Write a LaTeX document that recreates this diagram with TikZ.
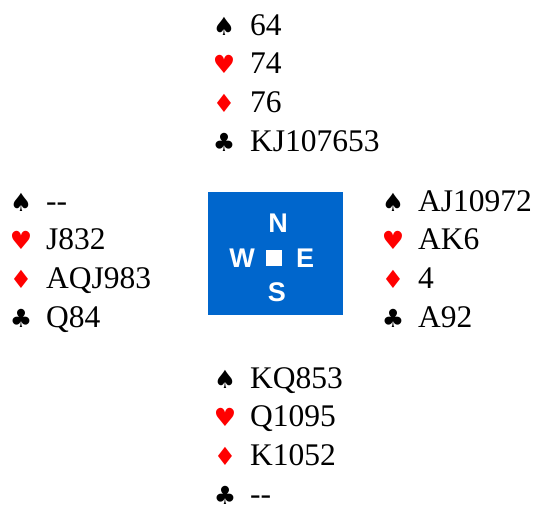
\documentclass[tikz,border=0pt]{standalone}
\usepackage{fontspec}
\setmainfont{Liberation Serif}
\newfontfamily\suitfont{DejaVu Sans}
\newfontfamily\seatfont{Liberation Sans}
\usetikzlibrary{positioning}
\definecolor{tableblue}{HTML}{0066CC}
\newcommand\spadesym{{\suitfont\char"2660}}
\newcommand\heartsym{{\suitfont\char"2665}}
\newcommand\diamsym{{\suitfont\char"2666}}
\newcommand\clubsym{{\suitfont\char"2663}}
\newcommand\void{{-}{-}}

\begin{document}
\begin{tikzpicture}[
    x=1pt, y=-1pt,
    suit/.style={anchor=base, inner sep=0pt, font=\fontsize{25}{25}\selectfont},
    holding/.style={anchor=base west, inner sep=0pt, font=\fontsize{31.5}{31.5}\selectfont},
    seat/.style={text=white, inner sep=0pt, font=\seatfont\bfseries\fontsize{27}{27}\selectfont},
    node distance=33pt, on grid
]
\useasboundingbox (0,0) rectangle (535,504);

% the table
\node[fill=tableblue, minimum width=135pt, minimum height=123pt] (table) at (275.5,253.5) {};
\node[fill=white, minimum size=16pt, inner sep=0pt] (sq) at (274,258) {};
\node[seat, above=35pt of sq, xshift=4pt] (N) {N};
\node[seat, below=34pt of sq, xshift=3pt] (S) {S};
\node[seat, left=32pt of sq] (W) {W};
\node[seat, right=31pt of sq] (E) {E};

% north
\foreach \s/\col/\cards [count=\i from 0] in {\spadesym/black/64, \heartsym/red/74, \diamsym/red/76, \clubsym/black/KJ107653} {
    \node[suit, text=\col] (north-s\i) at (224, 35+38.9*\i) {\s};
    \node[holding] (north-h\i) at (250, 35+38.9*\i) {\cards};
}
% west
\foreach \s/\col/\cards [count=\i from 0] in {\spadesym/black/\void, \heartsym/red/J832, \diamsym/red/AQJ983, \clubsym/black/Q84} {
    \node[suit, text=\col] (west-s\i) at (21, 211+38.7*\i) {\s};
    \node[holding] (west-h\i) at (46, 211+38.7*\i) {\cards};
}
% east
\foreach \s/\col/\cards [count=\i from 0] in {\spadesym/black/AJ10972, \heartsym/red/AK6, \diamsym/red/4, \clubsym/black/A92} {
    \node[suit, text=\col] (east-s\i) at (393, 211+38.7*\i) {\s};
    \node[holding] (east-h\i) at (418, 211+38.7*\i) {\cards};
}
% south
\foreach \s/\col/\cards [count=\i from 0] in {\spadesym/black/KQ853, \heartsym/red/Q1095, \diamsym/red/K1052, \clubsym/black/\void} {
    \node[suit, text=\col] (south-s\i) at (225, 388+38.7*\i) {\s};
    \node[holding] (south-h\i) at (250, 388+38.7*\i) {\cards};
}
\end{tikzpicture}
\end{document}
